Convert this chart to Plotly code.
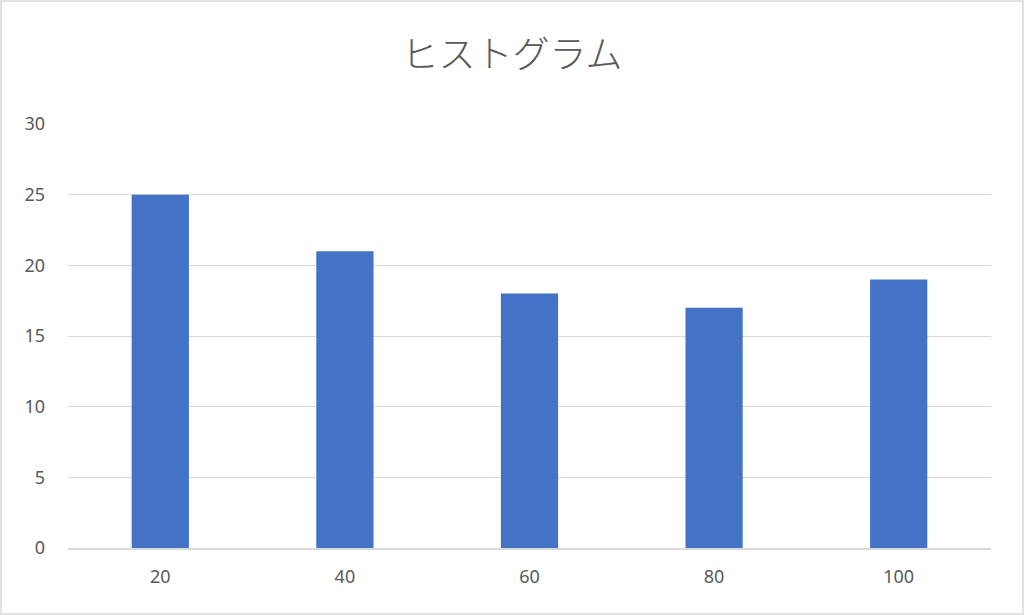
import plotly.graph_objects as go

# histogram bins and counts
bins = ["20", "40", "60", "80", "100"]
counts = [25, 21, 18, 17, 19]
y_ticks = [0, 5, 10, 15, 20, 25, 30]

fig = go.Figure()
fig.add_trace(go.Bar(
    x=bins,
    y=counts,
    marker=dict(color="#4472C4", line=dict(width=0)),
))

# plot area in pixels, used to place the outer border
L, R, T, B = 68, 33, 124, 67
W, H = 1024, 615
pw, ph = W - L - R, H - T - B

fig.update_layout(
    width=W,
    height=H,
    margin=dict(l=L, r=R, t=T, b=B),
    paper_bgcolor="white",
    plot_bgcolor="white",
    bargap=0.69,
    showlegend=False,
    font=dict(family="Noto Sans, Noto Sans CJK JP", color="#595959", size=16),
    title=dict(
        text="ヒストグラム",
        x=0.5,
        xanchor="center",
        y=1 - 55 / H,
        yanchor="middle",
        font=dict(size=37, color="#595959", family="Noto Sans CJK JP", weight=300),
    ),
    xaxis=dict(
        showgrid=False,
        showline=True,
        linecolor="#d9d9d9",
        linewidth=1.5,
        ticks="",
        tickfont=dict(size=18, color="#595959"),
        ticklabelstandoff=12,
    ),
    yaxis=dict(
        range=[0, 30],
        tickvals=y_ticks,
        showgrid=True,
        gridcolor="#d9d9d9",
        gridwidth=1.3,
        zeroline=False,
        showline=False,
        ticks="",
        tickfont=dict(size=18, color="#595959"),
        ticklabelstandoff=22,
    ),
    shapes=[dict(
        type="rect",
        xref="paper", yref="paper",
        x0=-(L - 1) / pw, x1=1 + (R - 1) / pw,
        y0=-(B - 1) / ph, y1=1 + (T - 1) / ph,
        line=dict(color="#d9d9d9", width=1.5),
        layer="below",
    )],
)

# drop the browser's default page margin so the figure sits at 0,0
fig.write_html(
    "out.html",
    config={"displayModeBar": False},
    post_script="document.body.style.margin='0';",
)
